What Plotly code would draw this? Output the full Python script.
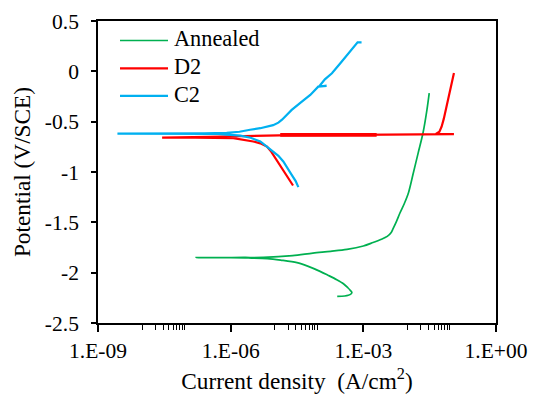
import plotly.graph_objects as go

# ---------------- data ----------------
series_names = ["Annealed", "D2", "C2"]
series_colors = ["#00B050", "#FF0000", "#00B0F0"]

annealed_i = [2.57e-4, 3.80e-4, 4.57e-4, 5.25e-4, 5.50e-4, 5.13e-4, 4.47e-4, 3.55e-4,
              2.51e-4, 1.58e-4, 1.05e-4, 5.50e-5, 3.16e-5, 1.35e-5, 6.76e-6,
              2.51e-6, 1.0e-6, 1.66e-7, 6.3e-7, 2.0e-6, 5.5e-6,
              2.51e-5, 7.24e-5, 1.82e-4, 4.27e-4, 1.0e-3, 1.66e-3, 2.40e-3, 3.47e-3,
              4.27e-3, 4.68e-3, 5.62e-3, 6.76e-3, 8.51e-3, 1.05e-2, 1.35e-2, 1.74e-2,
              2.24e-2, 2.75e-2, 3.09e-2]
annealed_e = [-2.235, -2.232, -2.225, -2.212, -2.195, -2.178, -2.15, -2.11,
              -2.07, -2.025, -1.987, -1.935, -1.90, -1.875, -1.86,
              -1.854, -1.852, -1.851, -1.850, -1.849, -1.848,
              -1.83, -1.805, -1.788, -1.769, -1.735, -1.70, -1.673, -1.64,
              -1.60, -1.565, -1.49, -1.405, -1.31, -1.206, -1.01, -0.81,
              -0.61, -0.38, -0.217]

d2_i = [2.57e-5, 1.70e-5, 1.10e-5, 8.32e-6, 6.61e-6, 4.68e-6, 3.24e-6, 1.15e-6,
        1.58e-7, 2.82e-8,
        3.16e-7, 2.51e-6, 1.26e-5, 1.0e-4, 1.0e-3, 1.0e-2, 5.0e-2, 1.12e-1,
        4.37e-2, 5.25e-2, 5.89e-2, 6.61e-2, 7.59e-2, 8.51e-2, 9.12e-2, 1.0e-1,
        1.10e-1, 1.12e-1]
d2_e = [-1.134, -1.011, -0.879, -0.80, -0.747, -0.715, -0.697, -0.664,
        -0.660, -0.658,
        -0.650, -0.640, -0.636, -0.633, -0.630, -0.627, -0.625, -0.624,
        -0.622, -0.600, -0.550, -0.470, -0.350, -0.270, -0.210, -0.120,
        -0.050, -0.016]
d2_band_i = [1.32e-5, 2.19e-4, 2.0e-3]
d2_band_e = [-0.632, -0.632, -0.632]

c2_i = [3.39e-5, 2.95e-5, 2.40e-5, 1.95e-5, 1.55e-5, 1.20e-5, 9.12e-6, 6.61e-6,
        4.68e-6, 2.82e-6, 1.66e-6, 5.01e-7, 3.16e-8,
        2.75e-9, 3.16e-8, 2.51e-7, 8.13e-7, 1.58e-6, 2.75e-6, 4.68e-6, 9.12e-6,
        1.20e-5, 1.45e-5, 1.91e-5, 2.40e-5, 4.07e-5, 6.31e-5, 9.55e-5, 1.48e-4,
        1.0e-4, 1.35e-4, 1.95e-4, 3.02e-4, 5.01e-4, 7.41e-4, 9.12e-4]
c2_e = [-1.15, -1.09, -1.028, -0.96, -0.896, -0.84, -0.797, -0.745,
        -0.697, -0.66, -0.638, -0.622, -0.619,
        -0.618, -0.617, -0.616, -0.612, -0.600, -0.580, -0.565, -0.535,
        -0.51, -0.480, -0.43, -0.383, -0.300, -0.234, -0.152, -0.145,
        -0.150, -0.080, -0.019, 0.080, 0.195, 0.288, 0.288]

x_tick_vals = [1e-9, 1e-6, 1e-3, 1e0]
x_tick_text = ["1.E-09", "1.E-06", "1.E-03", "1.E+00"]
x_minor_vals = [k * 10.0 ** (a + 1) for a in (-9, -6, -3) for k in range(1, 10)]
y_tick_vals = [0.5, 0, -0.5, -1, -1.5, -2, -2.5]
y_tick_text = ["0.5", "0", "-0.5", "-1", "-1.5", "-2", "-2.5"]

# ---------------- figure ----------------
# page body adds an 8px offset; figure is sized so the plot lands where the reference has it
W, H = 534, 390
ML, MR, MT, MB = 90, 46, 13, 74.7
FONT = "serif"
FS = 21.5      # tick labels
FS_LEG = 22.3  # legend
FS_TTL = 23.3  # axis titles

fig = go.Figure()
fig.add_trace(go.Scatter(x=annealed_i, y=annealed_e, mode="lines",
                         line=dict(color=series_colors[0], width=1.7, shape="spline", smoothing=0.9),
                         showlegend=False))
fig.add_trace(go.Scatter(x=d2_i, y=d2_e, mode="lines",
                         line=dict(color=series_colors[1], width=2.2), showlegend=False))
fig.add_trace(go.Scatter(x=d2_band_i, y=d2_band_e, mode="lines",
                         line=dict(color=series_colors[1], width=3.8), showlegend=False))
fig.add_trace(go.Scatter(x=c2_i, y=c2_e, mode="lines",
                         line=dict(color=series_colors[2], width=2.2), showlegend=False))

pw = W - ML - MR
ph = H - MT - MB
OFF = 8
def px2paper(px, py):
    return (px - OFF - ML) / pw, (H - MB - (py - OFF)) / ph

legend_rows_y = [40.5, 68.5, 96]
legend_widths = [1.7, 2.2, 2.2]
for name, col, ly, lw in zip(series_names, series_colors, legend_rows_y, legend_widths):
    x0, y0 = px2paper(120, ly)
    x1, _ = px2paper(168, ly)
    fig.add_shape(type="line", xref="paper", yref="paper", x0=x0, x1=x1, y0=y0, y1=y0,
                  line=dict(color=col, width=lw))
    tx, ty = px2paper(172, ly - 1.5)
    fig.add_annotation(xref="paper", yref="paper", x=tx, y=ty, text=name, showarrow=False,
                       xanchor="left", yanchor="middle",
                       font=dict(family=FONT, size=FS_LEG, color="black"))

fig.update_layout(
    width=W, height=H,
    margin=dict(l=ML, r=MR, t=MT, b=MB, pad=0, autoexpand=False),
    paper_bgcolor="white", plot_bgcolor="white",
    font=dict(family=FONT, size=FS, color="black"),
    showlegend=False,
)
fig.update_xaxes(
    type="log", range=[-9, 0], automargin=False,
    tickmode="array", tickvals=x_tick_vals, ticktext=x_tick_text,
    ticks="outside", ticklen=7, tickwidth=1.5, tickcolor="black",
    minor=dict(tickmode="array", tickvals=x_minor_vals, ticks="outside",
               ticklen=5, tickwidth=1.2, tickcolor="black", showgrid=False),
    showline=True, linecolor="black", linewidth=1.6, mirror=True,
    showgrid=False, zeroline=False,
    tickfont=dict(family=FONT, size=FS),
    title=dict(text="Current density  (A/cm<sup>2</sup>)", font=dict(family=FONT, size=FS_TTL),
               standoff=11),
)
fig.update_yaxes(
    range=[-2.5, 0.5], automargin=False,
    tickmode="array", tickvals=y_tick_vals, ticktext=y_tick_text,
    ticks="outside", ticklen=5, tickwidth=1.5, tickcolor="black",
    showline=True, linecolor="black", linewidth=1.6, mirror=True,
    showgrid=False, zeroline=False,
    tickfont=dict(family=FONT, size=FS),
    ticklabelstandoff=8,
    title=dict(text="Potential (V/SCE)", font=dict(family=FONT, size=FS_TTL), standoff=8),
)

fig.write_html("out.html")
